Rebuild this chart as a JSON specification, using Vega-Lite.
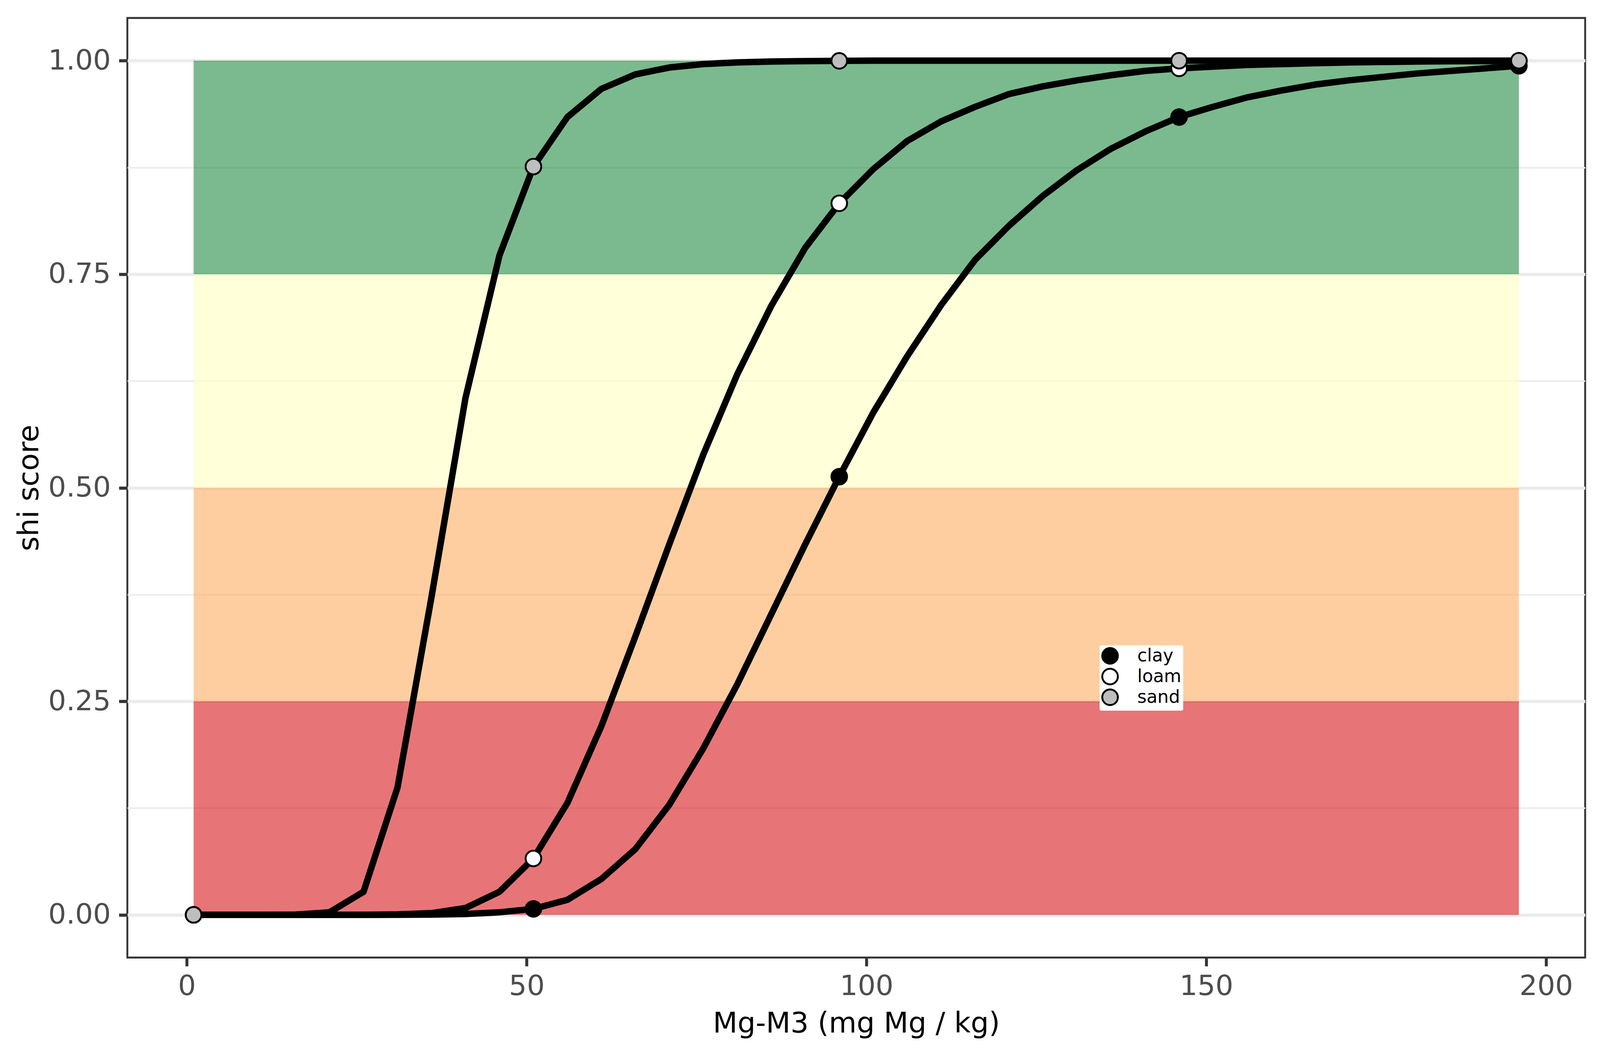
{
  "$schema": "https://vega.github.io/schema/vega-lite/v6.json",
  "description": "shi score scoring curves for Mg-M3 by soil texture",
  "autosize": {"type": "none"},
  "width": 3732,
  "height": 2405,
  "padding": {"left": 326, "top": 46, "right": 45, "bottom": 252},
  "background": "white",
  "config": {
    "font": "DejaVu Sans",
    "view": {"stroke": "#333333", "strokeWidth": 4.8}
  },
  "datasets": {
    "bands": [
      {"band": "0.00-0.25", "ymin": 0, "ymax": 0.25},
      {"band": "0.25-0.50", "ymin": 0.25, "ymax": 0.5},
      {"band": "0.50-0.75", "ymin": 0.5, "ymax": 0.75},
      {"band": "0.75-1.00", "ymin": 0.75, "ymax": 1}
    ],
    "curves": [
      {"soil": "clay", "x": 1, "y": 0},
      {"soil": "clay", "x": 6, "y": 0},
      {"soil": "clay", "x": 11, "y": 0},
      {"soil": "clay", "x": 16, "y": 0},
      {"soil": "clay", "x": 21, "y": 0},
      {"soil": "clay", "x": 26, "y": 0},
      {"soil": "clay", "x": 31, "y": 0.0001},
      {"soil": "clay", "x": 36, "y": 0.0003},
      {"soil": "clay", "x": 41, "y": 0.001},
      {"soil": "clay", "x": 46, "y": 0.003},
      {"soil": "clay", "x": 51, "y": 0.007},
      {"soil": "clay", "x": 56, "y": 0.0176},
      {"soil": "clay", "x": 61, "y": 0.042},
      {"soil": "clay", "x": 66, "y": 0.077},
      {"soil": "clay", "x": 71, "y": 0.129},
      {"soil": "clay", "x": 76, "y": 0.195},
      {"soil": "clay", "x": 81, "y": 0.27},
      {"soil": "clay", "x": 86, "y": 0.352},
      {"soil": "clay", "x": 91, "y": 0.434},
      {"soil": "clay", "x": 96, "y": 0.513},
      {"soil": "clay", "x": 101, "y": 0.588},
      {"soil": "clay", "x": 106, "y": 0.654},
      {"soil": "clay", "x": 111, "y": 0.714},
      {"soil": "clay", "x": 116, "y": 0.767},
      {"soil": "clay", "x": 121, "y": 0.807},
      {"soil": "clay", "x": 126, "y": 0.842},
      {"soil": "clay", "x": 131, "y": 0.872},
      {"soil": "clay", "x": 136, "y": 0.897},
      {"soil": "clay", "x": 141, "y": 0.917},
      {"soil": "clay", "x": 146, "y": 0.934},
      {"soil": "clay", "x": 151, "y": 0.946},
      {"soil": "clay", "x": 156, "y": 0.957},
      {"soil": "clay", "x": 161, "y": 0.965},
      {"soil": "clay", "x": 166, "y": 0.972},
      {"soil": "clay", "x": 171, "y": 0.977},
      {"soil": "clay", "x": 176, "y": 0.981},
      {"soil": "clay", "x": 181, "y": 0.985},
      {"soil": "clay", "x": 186, "y": 0.988},
      {"soil": "clay", "x": 191, "y": 0.991},
      {"soil": "clay", "x": 196, "y": 0.994},
      {"soil": "loam", "x": 1, "y": 0},
      {"soil": "loam", "x": 6, "y": 0},
      {"soil": "loam", "x": 11, "y": 0},
      {"soil": "loam", "x": 16, "y": 0},
      {"soil": "loam", "x": 21, "y": 0},
      {"soil": "loam", "x": 26, "y": 0.0001},
      {"soil": "loam", "x": 31, "y": 0.0005},
      {"soil": "loam", "x": 36, "y": 0.002},
      {"soil": "loam", "x": 41, "y": 0.008},
      {"soil": "loam", "x": 46, "y": 0.027},
      {"soil": "loam", "x": 51, "y": 0.066},
      {"soil": "loam", "x": 56, "y": 0.131},
      {"soil": "loam", "x": 61, "y": 0.221},
      {"soil": "loam", "x": 66, "y": 0.326},
      {"soil": "loam", "x": 71, "y": 0.434},
      {"soil": "loam", "x": 76, "y": 0.539},
      {"soil": "loam", "x": 81, "y": 0.633},
      {"soil": "loam", "x": 86, "y": 0.713},
      {"soil": "loam", "x": 91, "y": 0.781},
      {"soil": "loam", "x": 96, "y": 0.833},
      {"soil": "loam", "x": 101, "y": 0.873},
      {"soil": "loam", "x": 106, "y": 0.906},
      {"soil": "loam", "x": 111, "y": 0.929},
      {"soil": "loam", "x": 116, "y": 0.946},
      {"soil": "loam", "x": 121, "y": 0.961},
      {"soil": "loam", "x": 126, "y": 0.97},
      {"soil": "loam", "x": 131, "y": 0.977},
      {"soil": "loam", "x": 136, "y": 0.983},
      {"soil": "loam", "x": 141, "y": 0.988},
      {"soil": "loam", "x": 146, "y": 0.991},
      {"soil": "loam", "x": 151, "y": 0.993},
      {"soil": "loam", "x": 156, "y": 0.995},
      {"soil": "loam", "x": 161, "y": 0.996},
      {"soil": "loam", "x": 166, "y": 0.997},
      {"soil": "loam", "x": 171, "y": 0.998},
      {"soil": "loam", "x": 176, "y": 0.9985},
      {"soil": "loam", "x": 181, "y": 0.999},
      {"soil": "loam", "x": 186, "y": 0.9993},
      {"soil": "loam", "x": 191, "y": 0.9995},
      {"soil": "loam", "x": 196, "y": 0.9996},
      {"soil": "sand", "x": 1, "y": 0},
      {"soil": "sand", "x": 6, "y": 0},
      {"soil": "sand", "x": 11, "y": 0},
      {"soil": "sand", "x": 16, "y": 0.0003},
      {"soil": "sand", "x": 21, "y": 0.003},
      {"soil": "sand", "x": 26, "y": 0.027},
      {"soil": "sand", "x": 31, "y": 0.149},
      {"soil": "sand", "x": 36, "y": 0.372},
      {"soil": "sand", "x": 41, "y": 0.605},
      {"soil": "sand", "x": 46, "y": 0.772},
      {"soil": "sand", "x": 51, "y": 0.876},
      {"soil": "sand", "x": 56, "y": 0.934},
      {"soil": "sand", "x": 61, "y": 0.967},
      {"soil": "sand", "x": 66, "y": 0.984},
      {"soil": "sand", "x": 71, "y": 0.992},
      {"soil": "sand", "x": 76, "y": 0.996},
      {"soil": "sand", "x": 81, "y": 0.998},
      {"soil": "sand", "x": 86, "y": 0.999},
      {"soil": "sand", "x": 91, "y": 0.9995},
      {"soil": "sand", "x": 96, "y": 0.9998},
      {"soil": "sand", "x": 101, "y": 1},
      {"soil": "sand", "x": 106, "y": 1},
      {"soil": "sand", "x": 111, "y": 1},
      {"soil": "sand", "x": 116, "y": 1},
      {"soil": "sand", "x": 121, "y": 1},
      {"soil": "sand", "x": 126, "y": 1},
      {"soil": "sand", "x": 131, "y": 1},
      {"soil": "sand", "x": 136, "y": 1},
      {"soil": "sand", "x": 141, "y": 1},
      {"soil": "sand", "x": 146, "y": 1},
      {"soil": "sand", "x": 151, "y": 1},
      {"soil": "sand", "x": 156, "y": 1},
      {"soil": "sand", "x": 161, "y": 1},
      {"soil": "sand", "x": 166, "y": 1},
      {"soil": "sand", "x": 171, "y": 1},
      {"soil": "sand", "x": 176, "y": 1},
      {"soil": "sand", "x": 181, "y": 1},
      {"soil": "sand", "x": 186, "y": 1},
      {"soil": "sand", "x": 191, "y": 1},
      {"soil": "sand", "x": 196, "y": 1}
    ],
    "points": [
      {"soil": "clay", "x": 1, "y": 0},
      {"soil": "clay", "x": 51, "y": 0.007},
      {"soil": "clay", "x": 96, "y": 0.513},
      {"soil": "clay", "x": 146, "y": 0.934},
      {"soil": "clay", "x": 196, "y": 0.994},
      {"soil": "loam", "x": 1, "y": 0},
      {"soil": "loam", "x": 51, "y": 0.066},
      {"soil": "loam", "x": 96, "y": 0.833},
      {"soil": "loam", "x": 146, "y": 0.991},
      {"soil": "loam", "x": 196, "y": 0.9996},
      {"soil": "sand", "x": 1, "y": 0},
      {"soil": "sand", "x": 51, "y": 0.876},
      {"soil": "sand", "x": 96, "y": 0.9998},
      {"soil": "sand", "x": 146, "y": 1},
      {"soil": "sand", "x": 196, "y": 1}
    ]
  },
  "encoding": {
    "x": {
      "type": "quantitative",
      "scale": {"domain": [-8.75, 205.75], "nice": false, "zero": false},
      "axis": {
        "title": "Mg-M3 (mg Mg / kg)",
        "values": [0, 25, 50, 75, 100, 125, 150, 175, 200],
        "labelExpr": "datum.value % 50 === 0 ? datum.label : ''",
        "labelOverlap": false,
        "labelFlush": false,
        "domain": false,
        "gridColor": "#EBEBEB",
        "gridWidth": {"condition": {"test": "datum.value % 50 === 0", "value": 7.5}, "value": 3.75},
        "tickOpacity": {"condition": {"test": "datum.value % 50 !== 0", "value": 0}, "value": 1},
        "tickColor": "#333333",
        "tickWidth": 7.5,
        "tickSize": 22,
        "labelFontSize": 72,
        "labelColor": "#4D4D4D",
        "labelPadding": 16,
        "titleFontSize": 73,
        "titleFontWeight": "normal",
        "titleColor": "black",
        "titleX": 1866,
        "titleY": 191,
        "titleBaseline": "alphabetic"
      }
    },
    "y": {
      "type": "quantitative",
      "scale": {"domain": [-0.05, 1.05], "nice": false, "zero": false},
      "axis": {
        "title": "shi score",
        "values": [0, 0.125, 0.25, 0.375, 0.5, 0.625, 0.75, 0.875, 1],
        "format": ".2f",
        "labelExpr": "datum.value % 0.25 === 0 ? datum.label : ''",
        "labelOverlap": false,
        "labelFlush": false,
        "domain": false,
        "gridColor": "#EBEBEB",
        "gridWidth": {"condition": {"test": "datum.value % 0.25 === 0", "value": 8}, "value": 4},
        "tickOpacity": {"condition": {"test": "datum.value % 0.25 !== 0", "value": 0}, "value": 1},
        "tickColor": "#333333",
        "tickWidth": 8,
        "tickSize": 21.6,
        "labelFontSize": 72,
        "labelColor": "#4D4D4D",
        "labelPadding": 21,
        "titleFontSize": 73,
        "titleFontWeight": "normal",
        "titleColor": "black",
        "titleAngle": 270,
        "titleX": -229,
        "titleY": 1202.5,
        "titleAlign": "center",
        "titleBaseline": "alphabetic"
      }
    }
  },
  "layer": [
    {
      "data": {"name": "bands"},
      "mark": {"type": "rect", "opacity": 0.6},
      "encoding": {
        "x": {"datum": 1, "type": "quantitative"},
        "x2": {"datum": 196},
        "y": {"field": "ymin", "type": "quantitative"},
        "y2": {"field": "ymax"},
        "color": {
          "field": "band",
          "type": "nominal",
          "scale": {
            "domain": ["0.00-0.25", "0.25-0.50", "0.50-0.75", "0.75-1.00"],
            "range": ["#d7191c", "#fdae61", "#ffffbf", "#238c43"]
          },
          "legend": null
        }
      }
    },
    {
      "data": {"name": "curves"},
      "mark": {"type": "line", "color": "black", "strokeWidth": 16.5, "strokeJoin": "round"},
      "encoding": {
        "x": {"field": "x", "type": "quantitative"},
        "y": {"field": "y", "type": "quantitative"},
        "detail": {"field": "soil", "type": "nominal"}
      }
    },
    {
      "data": {"name": "points"},
      "mark": {
        "type": "point",
        "shape": "circle",
        "filled": true,
        "size": 1600,
        "stroke": "black",
        "strokeWidth": 4.8,
        "opacity": 1
      },
      "encoding": {
        "x": {"field": "x", "type": "quantitative"},
        "y": {"field": "y", "type": "quantitative"},
        "fill": {
          "field": "soil",
          "type": "nominal",
          "scale": {"domain": ["clay", "loam", "sand"], "range": ["black", "white", "#BEBEBE"]},
          "legend": {
            "title": null,
            "orient": "none",
            "legendX": 2489,
            "legendY": 1606,
            "fillColor": "white",
            "cornerRadius": 4,
            "padding": 4,
            "symbolType": "circle",
            "symbolSize": 1600,
            "symbolStrokeColor": "black",
            "symbolStrokeWidth": 4.8,
            "symbolOpacity": 1,
            "labelFontSize": 45.5,
            "labelColor": "black",
            "labelOffset": 47,
            "rowPadding": -24
          }
        }
      }
    }
  ]
}
